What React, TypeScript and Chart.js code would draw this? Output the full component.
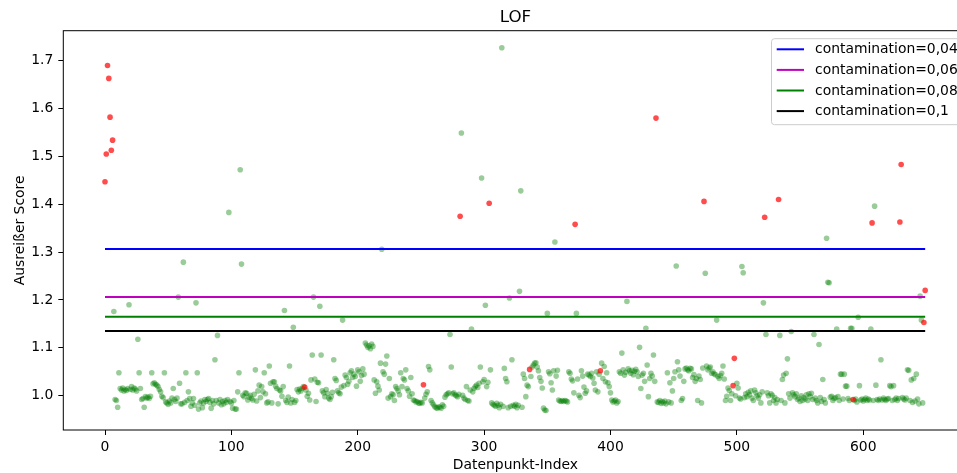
import { useEffect, useRef } from 'react';
import { Chart, registerables } from 'chart.js';

Chart.register(...registerables);

const CANVAS_W = 1000;
const CANVAS_H = 473;
const X_MIN = -33;
const X_MAX = 682.5;
const Y_MIN = 0.92833;
const Y_MAX = 1.76264;

const xTicks = [0, 100, 200, 300, 400, 500, 600];
const yTicks = [1.0, 1.1, 1.2, 1.3, 1.4, 1.5, 1.6, 1.7];

const titleText = 'LOF';
const xLabel = 'Datenpunkt-Index';
const yLabel = 'Ausreißer Score';

// LOF score for every data point index (0..649)
const scores = [
  1.447, 1.505, 1.690, 1.663, 1.582, 1.513, 1.534, 1.176, 0.992, 0.990,
  0.976, 1.048, 1.015, 1.012, 1.016, 1.010, 1.013, 1.011, 1.015, 1.190,
  1.013, 1.019, 1.012, 1.016, 1.014, 1.010, 1.118, 1.048, 1.015, 0.992,
  0.994, 0.976, 0.998, 0.995, 0.997, 0.994, 0.999, 1.048, 1.025, 1.027,
  1.024, 1.022, 1.019, 1.013, 1.008, 0.999, 0.996, 1.048, 0.987, 0.985,
  0.982, 0.989, 0.985, 0.995, 1.015, 0.992, 0.988, 0.995, 1.206, 1.026,
  0.983, 0.983, 1.279, 0.986, 1.048, 0.990, 1.008, 0.994, 0.978, 0.985,
  0.994, 0.980, 1.194, 1.048, 0.972, 0.985, 0.989, 0.975, 0.985, 0.992,
  0.988, 0.992, 0.994, 0.986, 0.974, 0.990, 0.983, 1.075, 0.990, 1.126,
  0.985, 0.992, 0.981, 0.988, 0.983, 0.990, 0.986, 0.992, 1.383, 0.988,
  0.985, 0.974, 0.990, 0.972, 0.972, 1.008, 1.048, 1.472, 1.275, 1.001,
  0.998, 1.006, 1.005, 0.991, 0.997, 1.001, 0.994, 0.991, 1.003, 1.054,
  0.989, 1.010, 1.022, 0.996, 1.019, 1.008, 1.048, 1.004, 0.985, 0.987,
  1.062, 1.026, 0.985, 1.029, 1.029, 1.020, 1.015, 0.983, 1.012, 1.010,
  0.999, 1.019, 1.178, 0.990, 0.986, 0.997, 1.062, 0.985, 0.992, 1.143,
  0.986, 0.990, 1.013, 1.008, 1.014, 1.010, 1.015, 1.019, 1.018, 1.012,
  0.999, 1.005, 0.991, 1.033, 1.085, 1.206, 1.035, 0.988, 1.028, 1.027,
  1.187, 1.085, 1.010, 1.006, 0.998, 1.013, 1.005, 0.995, 0.992, 0.998,
  1.007, 1.075, 1.036, 1.032, 1.010, 1.006, 1.004, 1.018, 1.158, 1.021,
  1.043, 1.038, 1.024, 1.030, 1.048, 1.052, 1.038, 1.045, 1.040, 1.020,
  1.054, 1.050, 1.030, 1.042, 1.056, 1.045, 1.110, 1.106, 1.101, 1.104,
  1.098, 1.108, 1.103, 1.033, 1.005, 1.029, 1.020, 1.012, 1.068, 1.306,
  1.050, 1.045, 1.066, 1.083, 0.995, 1.036, 0.998, 1.004, 1.002, 0.990,
  1.019, 1.015, 1.010, 1.002, 1.048, 1.019, 1.036, 1.033, 1.054, 1.015,
  1.010, 0.999, 1.038, 1.004, 0.991, 0.990, 0.987, 0.988, 0.985, 0.984,
  0.986, 0.985, 1.023, 0.995, 1.003, 1.008, 1.061, 1.054, 0.990, 0.985,
  0.981, 0.977, 0.975, 0.974, 0.977, 0.976, 0.974, 0.981, 0.978, 0.997,
  1.002, 1.004, 1.006, 1.128, 1.060, 1.004, 1.006, 1.002, 1.000, 0.998,
  1.003, 1.375, 1.549, 1.001, 0.995, 0.992, 1.019, 0.990, 0.989, 1.012,
  1.139, 1.008, 1.015, 1.019, 1.022, 1.017, 1.026, 1.060, 1.455, 1.029,
  1.034, 1.189, 1.019, 1.028, 1.402, 1.054, 0.985, 0.982, 0.980, 0.978,
  0.984, 0.980, 0.975, 0.982, 1.727, 0.978, 1.057, 1.036, 1.029, 0.975,
  1.204, 0.978, 1.075, 0.980, 0.978, 0.982, 0.975, 0.980, 1.218, 1.428,
  0.976, 1.045, 1.036, 0.998, 1.022, 1.019, 1.055, 1.040, 1.060, 1.064,
  1.068, 1.069, 1.060, 1.052, 1.038, 1.030, 1.016, 0.974, 0.970, 0.969,
  1.172, 1.050, 1.046, 1.027, 1.012, 1.052, 1.321, 1.041, 1.053, 0.991,
  0.989, 0.988, 0.990, 0.988, 0.990, 0.989, 0.987, 1.050, 1.047, 1.035,
  1.031, 1.006, 1.358, 1.172, 1.035, 1.001, 0.996, 1.052, 1.041, 1.018,
  1.005, 1.010, 1.045, 1.043, 1.040, 1.047, 1.037, 1.026, 1.012, 1.050,
  1.008, 1.045, 1.052, 1.068, 1.036, 1.061, 1.029, 1.048, 1.027, 1.019,
  1.006, 0.991, 0.987, 0.989, 0.991, 0.985, 0.988, 1.050, 1.047, 1.089,
  1.054, 1.043, 1.049, 1.197, 1.056, 1.052, 1.047, 1.053, 1.044, 1.051,
  1.055, 1.050, 1.040, 1.101, 1.015, 1.043, 1.047, 1.030, 1.141, 1.064,
  0.998, 1.036, 1.047, 1.041, 1.085, 1.030, 1.580, 0.987, 0.986, 0.990,
  0.984, 0.988, 0.985, 0.989, 0.983, 1.048, 0.987, 1.027, 0.985, 1.010,
  1.036, 1.050, 1.271, 1.071, 1.054, 1.041, 0.990, 0.994, 1.030, 1.056,
  1.058, 1.054, 1.052, 1.057, 1.056, 1.038, 1.044, 1.030, 1.036, 0.990,
  1.041, 1.034, 0.985, 1.058, 1.406, 1.256, 1.062, 1.054, 1.058, 1.060,
  1.047, 1.050, 1.046, 1.044, 1.158, 1.040, 1.036, 1.042, 1.047, 1.062,
  1.035, 0.990, 0.999, 1.016, 1.011, 0.990, 1.004, 1.021, 1.078, 1.000,
  1.026, 1.016, 0.995, 0.993, 1.270, 1.257, 0.996, 1.004, 0.998, 1.007,
  1.002, 1.010, 0.995, 0.990, 1.012, 1.006, 1.000, 0.995, 1.002, 0.985,
  1.008, 1.194, 1.373, 1.128, 1.006, 1.000, 0.985, 1.004, 1.001, 0.990,
  0.996, 0.985, 0.992, 1.410, 1.126, 0.990, 1.034, 1.043, 0.985, 1.047,
  1.077, 1.004, 0.995, 1.134, 1.006, 1.002, 0.998, 1.004, 0.992, 0.995,
  0.988, 1.000, 0.990, 0.996, 0.993, 1.002, 0.990, 1.004, 0.998, 1.005,
  0.992, 1.128, 0.995, 0.990, 0.985, 1.107, 0.996, 0.988, 1.034, 0.992,
  0.985, 1.329, 1.237, 1.236, 0.997, 0.999, 0.990, 0.994, 0.996, 1.139,
  0.998, 0.990, 1.045, 1.045, 0.993, 1.045, 1.020, 1.020, 0.994, 0.990,
  1.141, 1.141, 0.992, 0.990, 0.993, 0.987, 1.164, 1.021, 0.991, 0.993,
  0.989, 0.992, 0.995, 0.990, 0.993, 0.991, 1.139, 1.361, 0.990, 1.396,
  1.022, 0.992, 0.990, 0.993, 1.075, 0.991, 0.995, 0.992, 0.990, 0.993,
  0.994, 1.021, 1.019, 0.990, 1.021, 0.992, 0.995, 0.990, 0.994, 1.363,
  1.483, 0.996, 0.993, 0.991, 0.995, 1.054, 1.053, 0.990, 1.033, 0.986,
  1.036, 0.989, 1.045, 0.993, 0.983, 1.208, 1.158, 0.985, 1.153, 1.220,
];

// indices flagged as outliers (red)
const outlierIdx = [
  0, 1, 2, 3, 4, 5, 6, 158, 252, 281, 304, 336, 372, 392, 436, 474, 497, 498,
  522, 533, 592, 607, 629, 630, 648, 649,
];

const thresholdValues = [1.3065, 1.206, 1.165, 1.135];
const thresholdLabels = [
  'contamination=0,04',
  'contamination=0,06',
  'contamination=0,08',
  'contamination=0,1',
];
const thresholdColors = ['#0000ff', '#bf00bf', '#008000', '#000000'];
const lineStart = 0;
const lineEnd = 649;

const FONT = '"DejaVu Sans", Verdana, sans-serif';

const overlayPlugin = {
  id: 'mplOverlay',
  afterDatasetsDraw(chart: any) {
    const { ctx, chartArea } = chart;
    ctx.save();
    ctx.strokeStyle = '#000';
    ctx.lineWidth = 1;
    ctx.strokeRect(chartArea.left, chartArea.top, chartArea.right - chartArea.left, chartArea.bottom - chartArea.top);
    ctx.restore();
  },
  afterDraw(chart: any) {
    const { ctx, chartArea } = chart;
    const cx = (chartArea.left + chartArea.right) / 2;
    const cy = (chartArea.top + chartArea.bottom) / 2;
    ctx.save();
    ctx.fillStyle = '#000';
    ctx.textAlign = 'center';
    ctx.textBaseline = 'alphabetic';
    ctx.font = `16.7px ${FONT}`;
    ctx.fillText(titleText, cx, 22.3);
    ctx.font = `13.9px ${FONT}`;
    ctx.fillText(xLabel, cx, 469);
    ctx.save();
    ctx.translate(23.5, cy);
    ctx.rotate(-Math.PI / 2);
    ctx.fillText(yLabel, 0, 0);
    ctx.restore();

    // legend
    const lx = 771;
    const ly = chartArea.top + 7.5;
    const lw = chartArea.right - 7 - lx;
    const lh = 86;
    ctx.beginPath();
    (ctx as any).roundRect(lx + 0.5, ly + 0.5, lw, lh, 3);
    ctx.fillStyle = 'rgba(255,255,255,0.8)';
    ctx.fill();
    ctx.strokeStyle = '#cccccc';
    ctx.lineWidth = 1;
    ctx.stroke();
    ctx.textAlign = 'left';
    ctx.textBaseline = 'middle';
    for (let k = 0; k < thresholdLabels.length; k++) {
      const ry = 49.3 + k * 20.6;
      ctx.beginPath();
      ctx.moveTo(776.7, ry);
      ctx.lineTo(804, ry);
      ctx.strokeStyle = thresholdColors[k];
      ctx.lineWidth = 2;
      ctx.stroke();
      ctx.fillStyle = '#000';
      ctx.fillText(thresholdLabels[k], 815, ry + 0.5);
    }
    ctx.restore();
  },
};

export default function App() {
  const ref = useRef<HTMLCanvasElement | null>(null);

  useEffect(() => {
    if (!ref.current) return;
    const outSet = new Set(outlierIdx);
    const greenPts: { x: number; y: number }[] = [];
    const redPts: { x: number; y: number }[] = [];
    scores.forEach((v, i) => {
      if (outSet.has(i)) redPts.push({ x: i, y: v });
      else greenPts.push({ x: i, y: v });
    });

    const lineSets = thresholdValues.map((t, k) => ({
      type: 'line' as const,
      label: thresholdLabels[k],
      data: [
        { x: lineStart, y: t },
        { x: lineEnd, y: t },
      ],
      borderColor: thresholdColors[k],
      backgroundColor: thresholdColors[k],
      borderWidth: 2,
      pointRadius: 0,
      fill: false,
      showLine: true,
      order: 0,
    }));

    const tickFont = { family: FONT, size: 13.9 };

    const chart = new Chart(ref.current, {
      type: 'scatter',
      data: {
        datasets: [
          ...lineSets,
          {
            label: 'outlier',
            data: redPts,
            backgroundColor: 'rgba(255,0,0,0.7)',
            borderWidth: 0,
            pointRadius: 2.8,
            order: 1,
          },
          {
            label: 'inlier',
            data: greenPts,
            backgroundColor: 'rgba(0,128,0,0.4)',
            borderWidth: 0,
            pointRadius: 2.8,
            order: 2,
          },
        ] as any,
      },
      options: {
        animation: false,
        responsive: false,
        maintainAspectRatio: false,
        devicePixelRatio: 1,
        layout: { padding: { top: 30.7, right: CANVAS_W - 967.5, left: 0, bottom: 0 } },
        plugins: {
          legend: { display: false },
          title: { display: false },
          tooltip: { enabled: false },
        },
        scales: {
          x: {
            type: 'linear',
            min: X_MIN,
            max: X_MAX,
            afterBuildTicks: (s: any) => {
              s.ticks = xTicks.map((v) => ({ value: v }));
            },
            afterFit: (s: any) => {
              s.height = 43;
            },
            grid: { display: true, drawOnChartArea: false, drawTicks: true, tickLength: 5, color: '#000', lineWidth: 1 },
            border: { display: false },
            ticks: { color: '#000', font: tickFont, padding: 4, maxRotation: 0, autoSkip: false, callback: (v: any) => String(v) },
          },
          y: {
            type: 'linear',
            min: Y_MIN,
            max: Y_MAX,
            afterBuildTicks: (s: any) => {
              s.ticks = yTicks.map((v) => ({ value: v }));
            },
            afterFit: (s: any) => {
              s.width = 63.3;
            },
            grid: { display: true, drawOnChartArea: false, drawTicks: true, tickLength: 5, color: '#000', lineWidth: 1 },
            border: { display: false },
            ticks: { color: '#000', font: tickFont, padding: 5, autoSkip: false, callback: (v: any) => Number(v).toFixed(1) },
          },
        },
      } as any,
      plugins: [overlayPlugin],
    });
    return () => chart.destroy();
  }, []);

  return (
    <div
      style={{
        position: 'fixed',
        left: 0,
        top: 0,
        width: 957,
        height: 473,
        overflow: 'hidden',
        background: '#fff',
      }}
    >
      <canvas ref={ref} width={CANVAS_W} height={CANVAS_H} style={{ display: 'block', width: CANVAS_W, height: CANVAS_H }} />
    </div>
  );
}
